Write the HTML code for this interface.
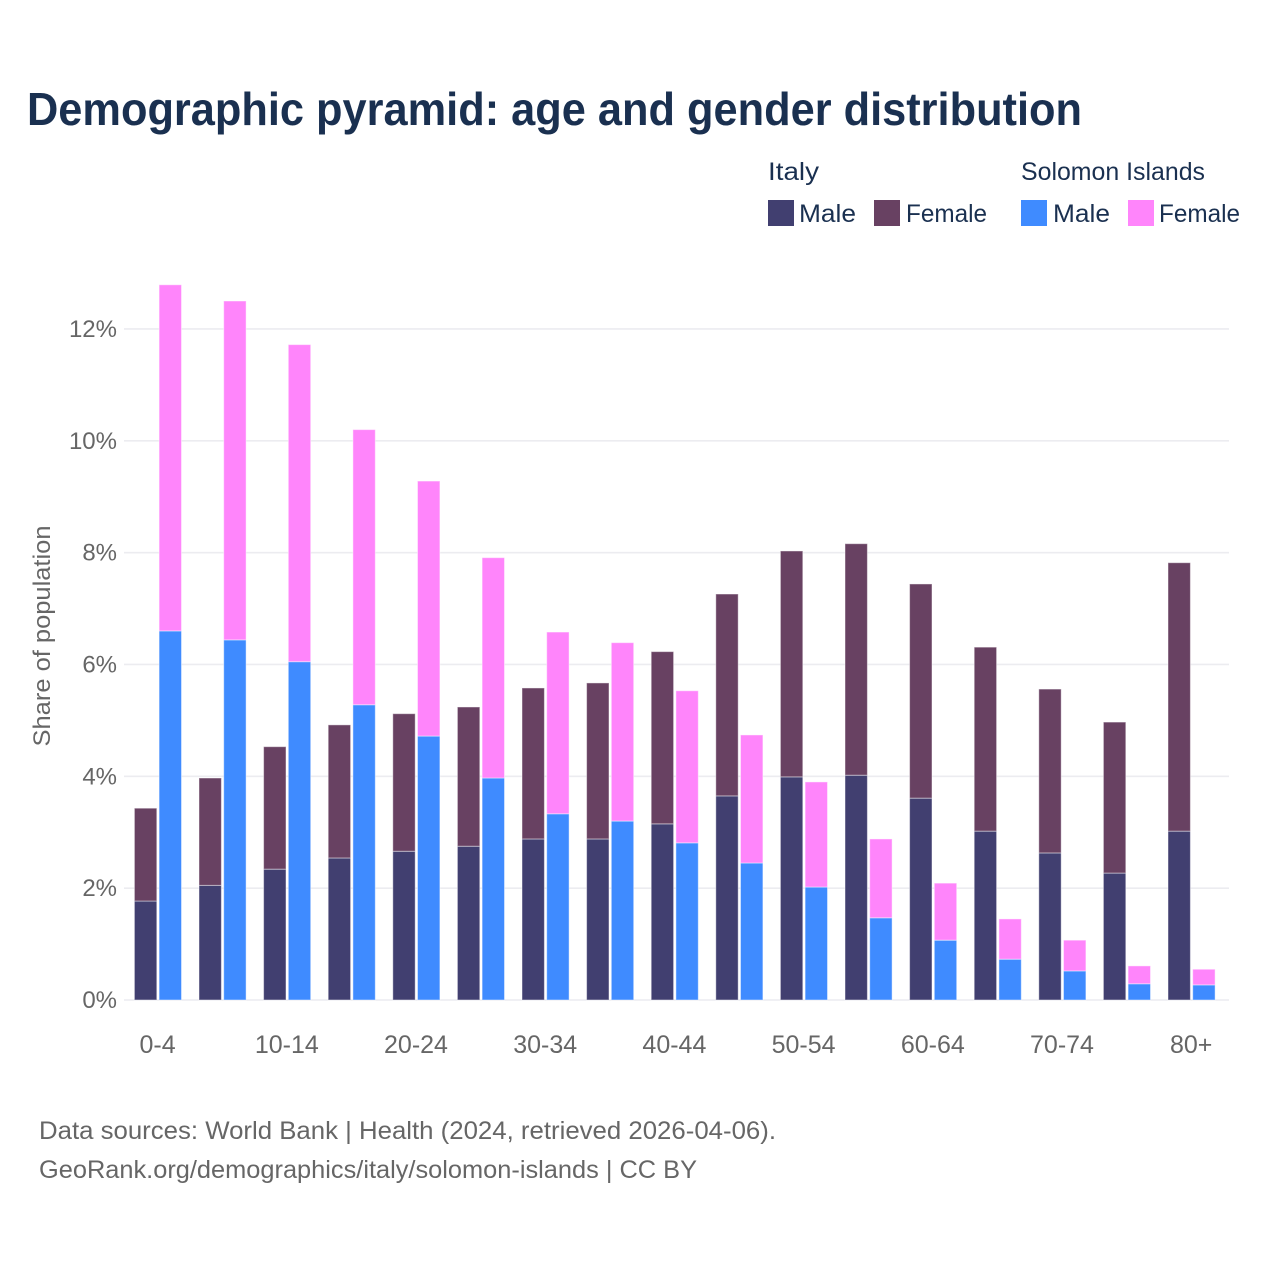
<!DOCTYPE html>
<html lang="en">
<head>
<meta charset="utf-8">
<title>Demographic pyramid</title>
<style>
html,body{margin:0;padding:0;background:#fff;}
svg{display:block;}
text{font-family:"Liberation Sans",sans-serif;}
</style>
</head>
<body>
<svg id="chart" xmlns="http://www.w3.org/2000/svg" width="1280" height="1280" viewBox="0 0 1280 1280">
  <rect x="0" y="0" width="1280" height="1280" fill="#ffffff"/>
  <text x="27" y="125" font-size="46" font-weight="700" fill="#1a3050" textLength="1055" lengthAdjust="spacingAndGlyphs">Demographic pyramid: age and gender distribution</text>
  <g font-size="25" fill="#1a3050">
    <text x="768" y="180" textLength="51" lengthAdjust="spacingAndGlyphs">Italy</text>
    <text x="1021" y="180" textLength="184" lengthAdjust="spacingAndGlyphs">Solomon Islands</text>
    <rect x="768" y="200" width="26" height="26" fill="#413f70"/>
    <text x="799" y="222" textLength="57" lengthAdjust="spacingAndGlyphs">Male</text>
    <rect x="874" y="200" width="26" height="26" fill="#684162"/>
    <text x="906" y="222" textLength="81" lengthAdjust="spacingAndGlyphs">Female</text>
    <rect x="1021" y="200" width="26" height="26" fill="#3f8bff"/>
    <text x="1053" y="222" textLength="57" lengthAdjust="spacingAndGlyphs">Male</text>
    <rect x="1128" y="200" width="26" height="26" fill="#ff85fb"/>
    <text x="1159" y="222" textLength="81" lengthAdjust="spacingAndGlyphs">Female</text>
  </g>
  <g id="grid"></g>
  <g id="bars"></g>
  <g id="y-ticks"></g>
  <g id="x-ticks"></g>
  <text transform="translate(50,636) rotate(-90)" text-anchor="middle" font-size="24" fill="#666666" textLength="221" lengthAdjust="spacingAndGlyphs">Share of population</text>
  <text x="39" y="1139" font-size="25" fill="#666666" textLength="737" lengthAdjust="spacingAndGlyphs">Data sources: World Bank | Health (2024, retrieved 2026-04-06).</text>
  <text x="39" y="1178" font-size="25" fill="#666666" textLength="658" lengthAdjust="spacingAndGlyphs">GeoRank.org/demographics/italy/solomon-islands | CC BY</text>
</svg>
<script>
const categories = ["0-4","5-9","10-14","15-19","20-24","25-29","30-34","35-39","40-44","45-49","50-54","55-59","60-64","65-69","70-74","75-79","80+"];
const italyMale = [1.77,2.05,2.34,2.54,2.66,2.75,2.88,2.88,3.15,3.65,3.99,4.02,3.61,3.02,2.63,2.27,3.02];
const italyFemale = [1.66,1.92,2.19,2.38,2.46,2.49,2.70,2.79,3.08,3.61,4.04,4.14,3.83,3.29,2.93,2.70,4.80];
const solomonMale = [6.60,6.44,6.05,5.28,4.72,3.97,3.33,3.20,2.81,2.45,2.02,1.47,1.07,0.73,0.52,0.29,0.27];
const solomonFemale = [6.19,6.06,5.67,4.92,4.56,3.94,3.25,3.19,2.72,2.29,1.88,1.41,1.02,0.72,0.55,0.32,0.28];
const yTickValues = [0,2,4,6,8,10,12];
const yTickLabels = ["0%","2%","4%","6%","8%","10%","12%"];

const SVG_NS = "http://www.w3.org/2000/svg";
const yScale = function (v) { return 1000 - v * 55.92; };
const groupX = function (i) { return 134.4 + i * 64.6; };
const BAR_W = 22.4;
const BAR_GAP = 24.7;

function drawBar(x, v0, v1, fill, name) {
  const r = document.createElementNS(SVG_NS, "rect");
  r.setAttribute("x", x.toFixed(2));
  r.setAttribute("y", yScale(v1).toFixed(2));
  r.setAttribute("width", BAR_W);
  r.setAttribute("height", (yScale(v0) - yScale(v1)).toFixed(2));
  r.setAttribute("fill", fill);
  r.setAttribute("stroke", "#ffffff");
  r.setAttribute("stroke-opacity", "0.45");
  r.setAttribute("stroke-width", "1");
  
  
  document.getElementById("bars").appendChild(r);
}

yTickValues.forEach(function (v, i) {
  const line = document.createElementNS(SVG_NS, "line");
  line.setAttribute("x1", 124);
  line.setAttribute("x2", 1229);
  line.setAttribute("y1", yScale(v));
  line.setAttribute("y2", yScale(v));
  line.setAttribute("stroke", "#ececf0");
  line.setAttribute("stroke-width", "1.6");
  
  
  document.getElementById("grid").appendChild(line);

  const t = document.createElementNS(SVG_NS, "text");
  t.setAttribute("x", 117);
  t.setAttribute("y", yScale(v) + 8);
  t.setAttribute("text-anchor", "end");
  t.setAttribute("font-size", "24");
  t.setAttribute("fill", "#666666");
  
  
  t.textContent = yTickLabels[i];
  document.getElementById("y-ticks").appendChild(t);
});

categories.forEach(function (c, i) {
  const x = groupX(i);
  drawBar(x, 0, italyMale[i], "#413f70", "bar-italy-male");
  drawBar(x, italyMale[i], italyMale[i] + italyFemale[i], "#684162", "bar-italy-female");
  drawBar(x + BAR_GAP, 0, solomonMale[i], "#3f8bff", "bar-solomon-male");
  drawBar(x + BAR_GAP, solomonMale[i], solomonMale[i] + solomonFemale[i], "#ff85fb", "bar-solomon-female");
  if (i % 2 === 0) {
    const t = document.createElementNS(SVG_NS, "text");
    t.setAttribute("x", (x + 23.2).toFixed(2));
    t.setAttribute("y", 1053);
    t.setAttribute("text-anchor", "middle");
    t.setAttribute("font-size", "25");
    t.setAttribute("fill", "#666666");
    
    
    t.textContent = c;
    document.getElementById("x-ticks").appendChild(t);
  }
});
</script>
</body>
</html>
